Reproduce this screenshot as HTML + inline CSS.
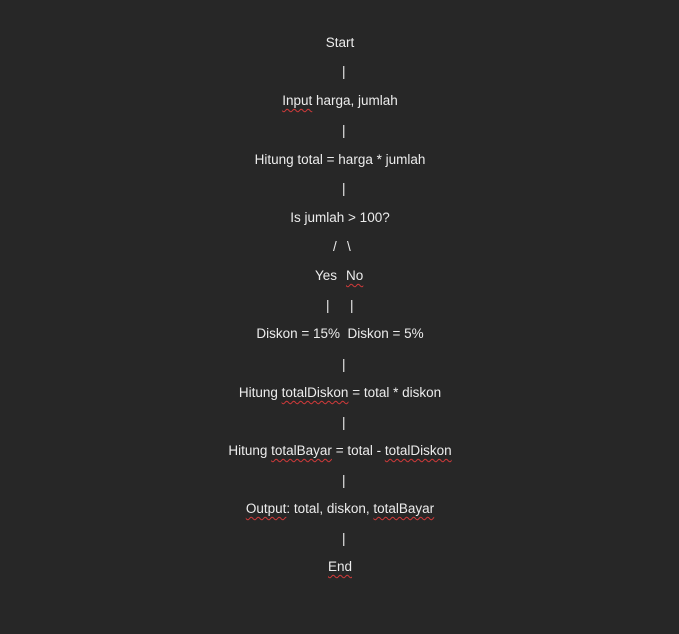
<!DOCTYPE html>
<html><head><style>
html,body{margin:0;padding:0;width:679px;height:634px;background:#272727;overflow:hidden}
body{position:relative;font-family:"Liberation Sans",sans-serif;font-size:13.5px;color:#ececec}
.l{position:absolute;left:0;width:680px;text-align:center;line-height:16px;white-space:pre}
.a{position:absolute;line-height:16px;white-space:pre}
.s{text-decoration:underline wavy #d23a3a;text-decoration-thickness:1px;text-underline-offset:3px}
</style></head><body>
<div class="l" style="top:35px">Start</div>
<div class="a" style="top:64px;left:342px">|</div>
<div class="l" style="top:93px"><span class="s">Input</span> harga, jumlah</div>
<div class="a" style="top:123px;left:342px">|</div>
<div class="l" style="top:152px">Hitung total = harga * jumlah</div>
<div class="a" style="top:181px;left:342px">|</div>
<div class="l" style="top:210px">Is jumlah &gt; 100?</div>
<div class="a" style="top:239px;left:333px">/</div>
<div class="a" style="top:239px;left:347px">\</div>
<div class="a" style="top:268px;left:315px">Yes</div>
<div class="a" style="top:268px;left:346px"><span class="s">No</span></div>
<div class="a" style="top:298px;left:326px">|</div>
<div class="a" style="top:298px;left:350px">|</div>
<div class="l" style="top:326px">Diskon = 15%&nbsp; Diskon = 5%</div>
<div class="a" style="top:357px;left:342px">|</div>
<div class="l" style="top:385px">Hitung <span class="s">totalDiskon</span> = total * diskon</div>
<div class="a" style="top:415px;left:342px">|</div>
<div class="l" style="top:443px">Hitung <span class="s">totalBayar</span> = total - <span class="s">totalDiskon</span></div>
<div class="a" style="top:473px;left:342px">|</div>
<div class="l" style="top:501px"><span class="s">Output</span>: total, diskon, <span class="s">totalBayar</span></div>
<div class="a" style="top:531px;left:342px">|</div>
<div class="l" style="top:559px"><span class="s">End</span></div>
</body></html>
